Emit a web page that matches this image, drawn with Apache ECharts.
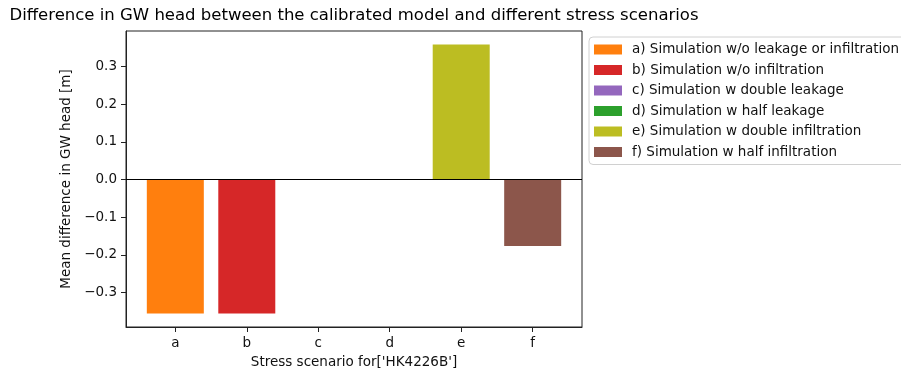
<!DOCTYPE html>
<html>
<head>
<meta charset="utf-8">
<script src="https://cdn.jsdelivr.net/npm/echarts@6/dist/echarts.min.js"></script>
<style>html,body{margin:0;padding:0;background:#fff;}#c{width:901px;height:374px;}</style>
</head>
<body>
<div id="c"></div>
<script>
const categories = ['a', 'b', 'c', 'd', 'e', 'f'];
const seriesNames = [
  'a) Simulation w/o leakage or infiltration',
  'b) Simulation w/o infiltration',
  'c) Simulation w double leakage',
  'd) Simulation w half leakage',
  'e) Simulation w double infiltration',
  'f) Simulation w half infiltration'
];
const values = [-0.355, -0.355, 0, 0, 0.358, -0.176];
const colors = ['#ff7f0e', '#d62728', '#9467bd', '#2ca02c', '#bcbd22', '#8c564b'];
const yTicks = [-0.3, -0.2, -0.1, 0.0, 0.1, 0.2, 0.3];
const xTicks = [0, 1, 2, 3, 4, 5];

const FONT = 'DejaVu Sans';
const FS = 13.5;

const chart = echarts.init(document.getElementById('c'), null, {renderer: 'canvas'});

const series = seriesNames.map((name, i) => {
  const s = {
    name: name,
    type: 'bar',
    data: [[i, values[i]]],
    barWidth: 57,
    barGap: '-100%',
    itemStyle: {color: colors[i]},
    silent: true
  };
  if (i === 0) {
    s.markLine = {
      silent: true,
      symbol: ['none', 'none'],
      label: {show: false},
      lineStyle: {color: '#000', type: 'solid', width: 1},
      data: [{yAxis: 0}]
    };
  }
  return s;
});

chart.setOption({
  animation: false,
  color: colors,
  textStyle: {fontFamily: FONT},
  title: {
    text: 'Difference in GW head between the calibrated model and different stress scenarios',
    left: 354,
    textAlign: 'center',
    top: 7,
    padding: 0,
    textStyle: {fontFamily: FONT, fontSize: 16.5, fontWeight: 'normal', color: '#000'}
  },
  legend: {
    orient: 'vertical',
    left: 589,
    top: 37,
    padding: [5, 6, 5, 5],
    itemWidth: 28,
    itemHeight: 10,
    itemGap: 5.5,
    icon: 'rect',
    borderColor: '#d0d0d0',
    borderWidth: 1,
    borderRadius: 4,
    backgroundColor: '#fff',
    selectedMode: false,
    data: seriesNames,
    textStyle: {fontFamily: FONT, fontSize: FS, color: '#111', lineHeight: 15, padding: [0, 0, 0, 5]}
  },
  grid: {
    left: 126,
    top: 31,
    width: 456,
    height: 296,
    show: true,
    borderColor: '#222',
    borderWidth: 1,
    backgroundColor: '#fff'
  },
  xAxis: {
    type: 'value',
    min: -0.69,
    max: 5.69,
    name: "Stress scenario for['HK4226B']",
    nameLocation: 'middle',
    nameGap: 28,
    nameTextStyle: {fontFamily: FONT, fontSize: FS, color: '#111'},
    axisLine: {show: true, onZero: false, lineStyle: {color: '#222', width: 1}},
    axisTick: {show: true, length: 5, customValues: xTicks, lineStyle: {color: '#222'}},
    axisLabel: {
      show: true, margin: 9, customValues: xTicks,
      fontFamily: FONT, fontSize: FS, color: '#111',
      formatter: v => categories[Math.round(v)] || ''
    },
    splitLine: {show: false}
  },
  yAxis: {
    type: 'value',
    min: -0.391,
    max: 0.394,
    name: 'Mean difference in GW head [m]',
    nameLocation: 'middle',
    nameGap: 43,
    nameTextStyle: {fontFamily: FONT, fontSize: FS, color: '#111'},
    axisLine: {show: true, onZero: false, lineStyle: {color: '#222', width: 1}},
    axisTick: {show: true, length: 5, customValues: yTicks, lineStyle: {color: '#222'}},
    axisLabel: {
      show: true, margin: 9, customValues: yTicks,
      fontFamily: FONT, fontSize: FS, color: '#111',
      formatter: v => v.toFixed(1).replace('-', '\u2212')
    },
    splitLine: {show: false}
  },
  series: series
});
</script>
</body>
</html>
